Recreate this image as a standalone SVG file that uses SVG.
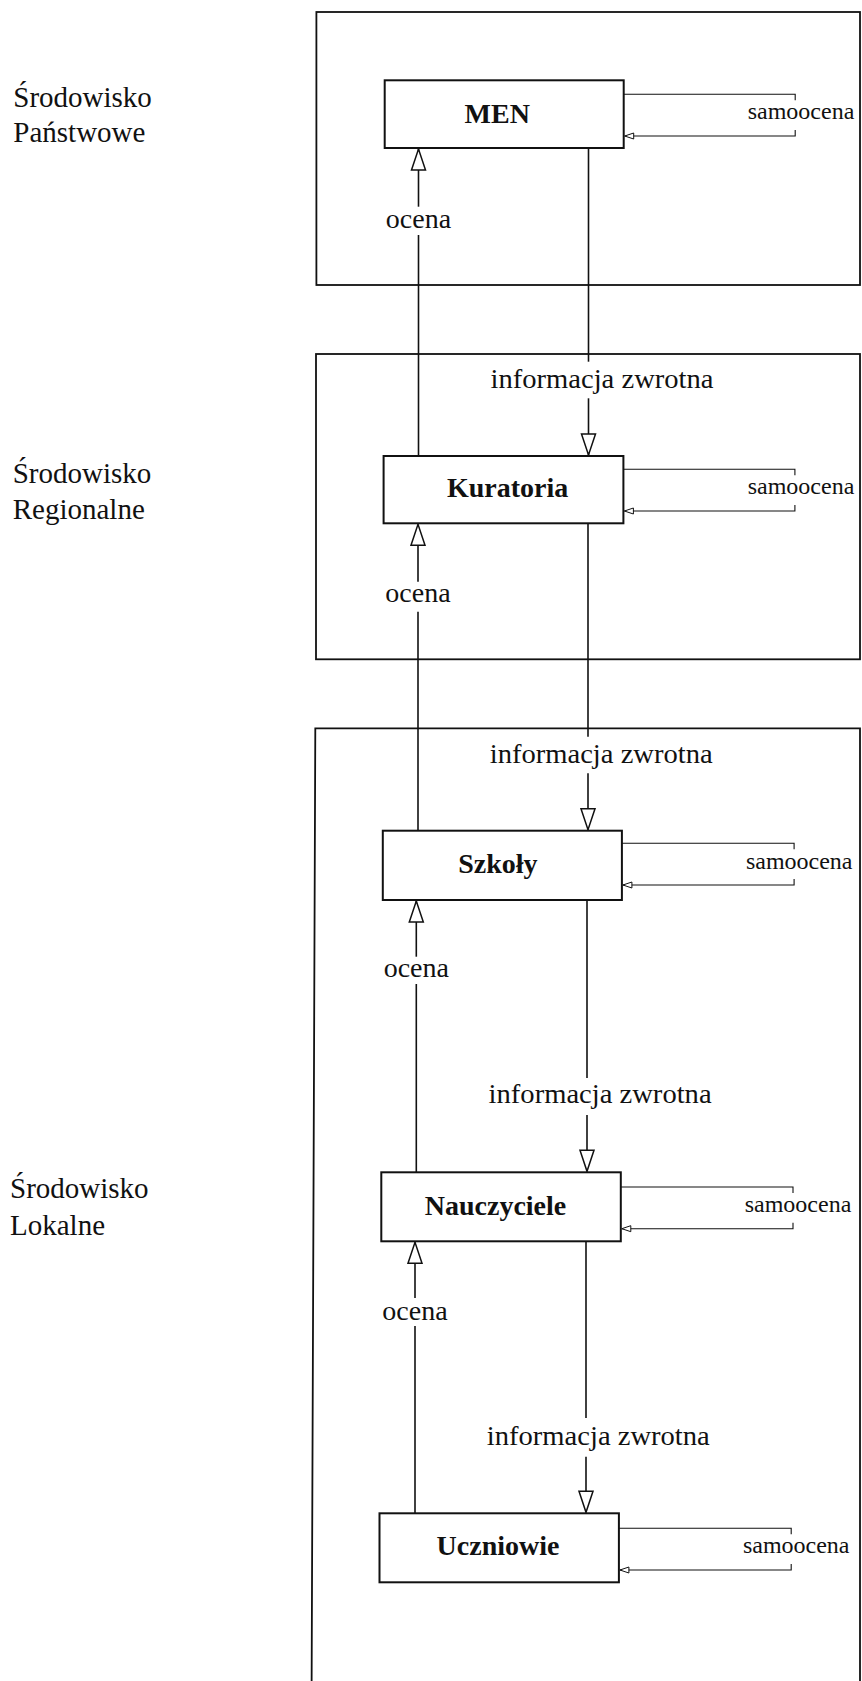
<svg xmlns="http://www.w3.org/2000/svg" width="862" height="1681" viewBox="0 0 862 1681">
<style>
  .frame{fill:none;stroke:#111;stroke-width:1.8}
  .box{fill:#fff;stroke:#111;stroke-width:2}
  .ln{fill:none;stroke:#111;stroke-width:1.6}
  .br{fill:none;stroke:#111;stroke-width:1.1}
  .env{font-family:"Liberation Serif","Times New Roman",serif;font-size:29px;fill:#111}
  .nt{font-family:"Liberation Serif","Times New Roman",serif;font-size:28px;font-weight:bold;text-anchor:middle;fill:#111}
  .lbl{font-family:"Liberation Serif","Times New Roman",serif;font-size:28px;fill:#111}
  .oc{text-anchor:middle}
  .self{font-family:"Liberation Serif","Times New Roman",serif;font-size:24px;fill:#111}
</style>
<defs>
  <marker id="big" markerUnits="userSpaceOnUse" markerWidth="24" markerHeight="17" refX="21.5" refY="7.5" orient="auto" overflow="visible">
    <path d="M0.5,0.5 L21.5,7.5 L0.5,14.5 Z" fill="#fff" stroke="#111" stroke-width="1.5"/>
  </marker>
  <marker id="small" markerUnits="userSpaceOnUse" markerWidth="12" markerHeight="8" refX="9.5" refY="3.5" orient="auto" overflow="visible">
    <path d="M0.5,0.5 L9.5,3.5 L0.5,6.5 Z" fill="#fff" stroke="#111" stroke-width="1"/>
  </marker>
</defs>
<rect width="862" height="1681" fill="#fff"/>

<g id="env-panstwowe">
  <rect class="frame" x="316.4" y="12" width="543.6" height="273"/>
  <text class="env" x="13.3" y="106.7">Środowisko</text>
  <text class="env" x="13.3" y="141.7">Państwowe</text>
</g>
<g id="env-regionalne">
  <rect class="frame" x="316" y="354" width="544" height="305.3"/>
  <text class="env" x="12.7" y="483.3">Środowisko</text>
  <text class="env" x="12.7" y="519.3">Regionalne</text>
</g>
<g id="env-lokalne">
  <path class="frame" d="M311.6,1690 L315.3,728.3 L860,728.3 L860,1690"/>
  <text class="env" x="10" y="1198.3">Środowisko</text>
  <text class="env" x="10" y="1235">Lokalne</text>
</g>

<g id="connectors">
  <!-- ocena MEN -->
  <line class="ln" x1="418.5" y1="456" x2="418.5" y2="235"/>
  <line class="ln" x1="418.5" y1="206.7" x2="418.5" y2="149" marker-end="url(#big)"/>
  <text class="lbl oc" x="418.5" y="228">ocena</text>
  <!-- info MEN -> Kuratoria -->
  <line class="ln" x1="588.5" y1="148" x2="588.5" y2="361.7"/>
  <line class="ln" x1="588.5" y1="398.3" x2="588.5" y2="455" marker-end="url(#big)"/>
  <text class="lbl" x="490.5" y="388.3" textLength="223" lengthAdjust="spacingAndGlyphs">informacja zwrotna</text>

  <!-- ocena Kuratoria -->
  <line class="ln" x1="418" y1="830.7" x2="418" y2="611.7"/>
  <line class="ln" x1="418" y1="581.7" x2="418" y2="524.3" marker-end="url(#big)"/>
  <text class="lbl oc" x="418" y="601.7">ocena</text>
  <!-- info Kuratoria -> Szkoly -->
  <line class="ln" x1="588" y1="523.3" x2="588" y2="736.7"/>
  <line class="ln" x1="588" y1="773.3" x2="588" y2="829.7" marker-end="url(#big)"/>
  <text class="lbl" x="489.7" y="762.7" textLength="223" lengthAdjust="spacingAndGlyphs">informacja zwrotna</text>

  <!-- ocena Szkoly -->
  <line class="ln" x1="416.3" y1="1172.3" x2="416.3" y2="984"/>
  <line class="ln" x1="416.3" y1="956.7" x2="416.3" y2="901" marker-end="url(#big)"/>
  <text class="lbl oc" x="416.3" y="977.3">ocena</text>
  <!-- info Szkoly -> Nauczyciele -->
  <line class="ln" x1="587" y1="900" x2="587" y2="1078"/>
  <line class="ln" x1="587" y1="1115" x2="587" y2="1171.3" marker-end="url(#big)"/>
  <text class="lbl" x="488.6" y="1103.3" textLength="223" lengthAdjust="spacingAndGlyphs">informacja zwrotna</text>

  <!-- ocena Nauczyciele -->
  <line class="ln" x1="415" y1="1513.3" x2="415" y2="1326"/>
  <line class="ln" x1="415" y1="1298" x2="415" y2="1242.3" marker-end="url(#big)"/>
  <text class="lbl oc" x="415" y="1320">ocena</text>
  <!-- info Nauczyciele -> Uczniowie -->
  <line class="ln" x1="586" y1="1241.3" x2="586" y2="1418"/>
  <line class="ln" x1="586" y1="1456.7" x2="586" y2="1512.3" marker-end="url(#big)"/>
  <text class="lbl" x="486.8" y="1445" textLength="223" lengthAdjust="spacingAndGlyphs">informacja zwrotna</text>

  <!-- samoocena loops -->
  <path class="br" d="M623.7,94.3 H795.2 V100.3"/>
  <path class="br" d="M795.2,130 V136 H624.7" marker-end="url(#small)"/>
  <text class="self" x="747.7" y="119">samoocena</text>

  <path class="br" d="M623.4,469.3 H794.9 V475.3"/>
  <path class="br" d="M794.9,505 V511 H624.4" marker-end="url(#small)"/>
  <text class="self" x="747.7" y="494.3">samoocena</text>

  <path class="br" d="M621.9,843.3 H794.1 V849.3"/>
  <path class="br" d="M794.1,879 V885 H622.9" marker-end="url(#small)"/>
  <text class="self" x="745.9" y="869.3">samoocena</text>

  <path class="br" d="M620.8,1187 H793 V1193"/>
  <path class="br" d="M793,1222.7 V1228.7 H621.8" marker-end="url(#small)"/>
  <text class="self" x="744.7" y="1211.7">samoocena</text>

  <path class="br" d="M618.9,1528.3 H791.2 V1534.3"/>
  <path class="br" d="M791.2,1564 V1570 H619.9" marker-end="url(#small)"/>
  <text class="self" x="742.9" y="1552.7">samoocena</text>
</g>

<g id="node-men">
  <rect class="box" x="384.7" y="80.3" width="239" height="67.7"/>
  <text class="nt" x="497.2" y="122.7">MEN</text>
</g>
<g id="node-kuratoria">
  <rect class="box" x="383.6" y="456" width="239.8" height="67.3"/>
  <text class="nt" x="507.6" y="496.7">Kuratoria</text>
</g>
<g id="node-szkoly">
  <rect class="box" x="382.8" y="830.7" width="239.1" height="69.3"/>
  <text class="nt" x="497.9" y="872.7">Szkoły</text>
</g>
<g id="node-nauczyciele">
  <rect class="box" x="381.3" y="1172.3" width="239.5" height="69"/>
  <text class="nt" x="495.5" y="1215">Nauczyciele</text>
</g>
<g id="node-uczniowie">
  <rect class="box" x="379.5" y="1513.3" width="239.4" height="69"/>
  <text class="nt" x="498" y="1555">Uczniowie</text>
</g>
</svg>
